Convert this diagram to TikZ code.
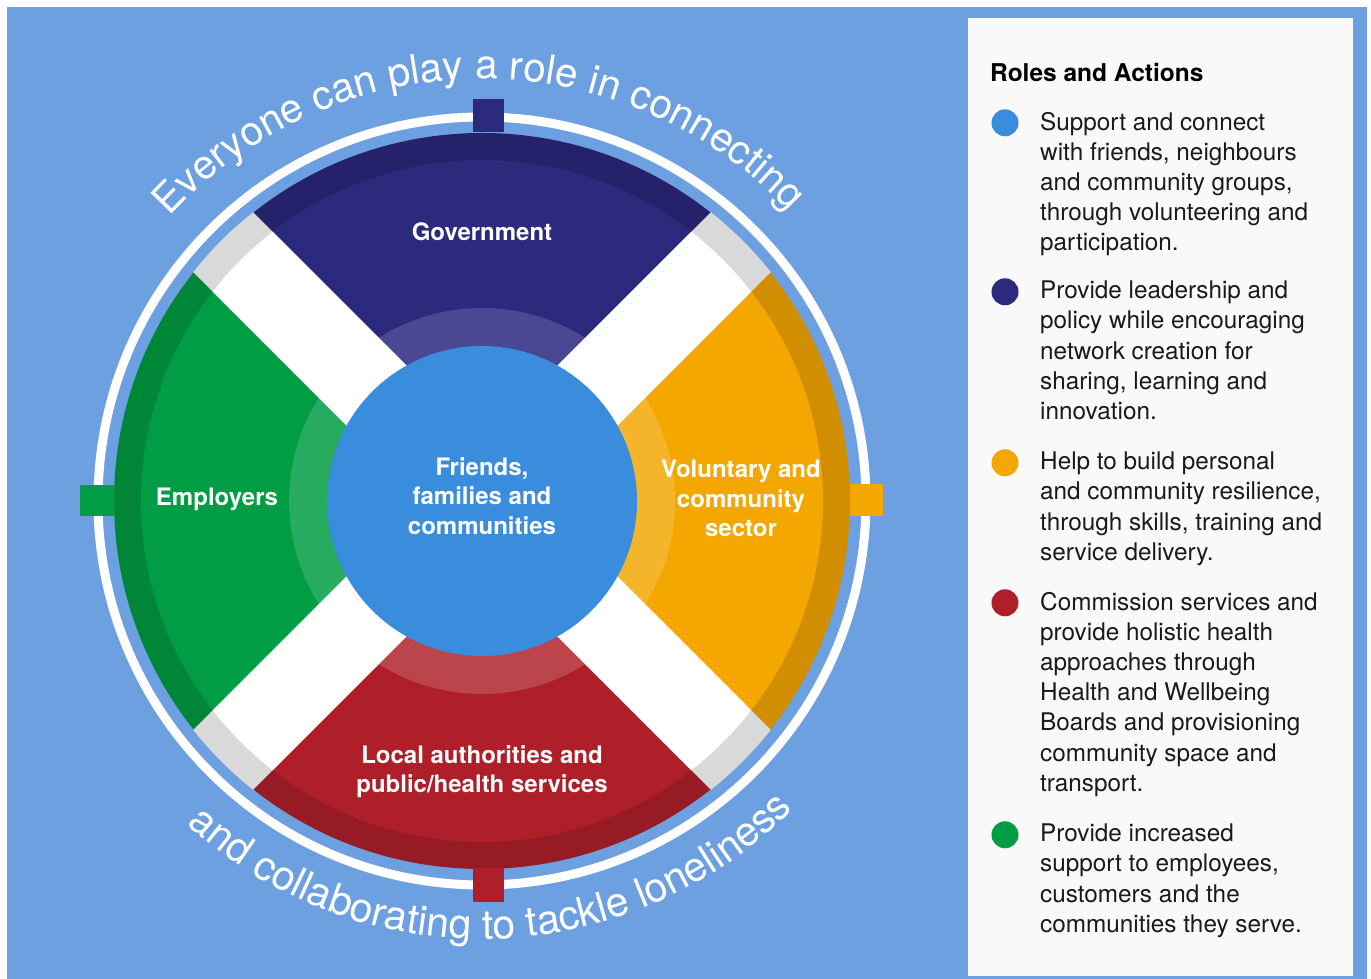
\documentclass[tikz,border=0pt]{standalone}
\usepackage{fontspec}
\setmainfont{TeX Gyre Heros}
\usetikzlibrary{decorations.text}
\definecolor{bgblue}{HTML}{6CA0E0}
\definecolor{panel}{HTML}{F9F9F9}
\definecolor{ink}{HTML}{1A1A1A}
\definecolor{cblue}{HTML}{3A8DDD}
\definecolor{navyD}{HTML}{25226B}
\definecolor{navyM}{HTML}{2C2A7C}
\definecolor{navyL}{HTML}{4A4892}
\definecolor{orngD}{HTML}{D08E00}
\definecolor{orngM}{HTML}{F3A700}
\definecolor{orngL}{HTML}{F4B52A}
\definecolor{redD}{HTML}{961B24}
\definecolor{redM}{HTML}{AE1F2A}
\definecolor{redL}{HTML}{BB454B}
\definecolor{grnD}{HTML}{008637}
\definecolor{grnM}{HTML}{009D45}
\definecolor{grnL}{HTML}{27AB5F}
\definecolor{greyc}{HTML}{D9D9D9}
\tikzset{
  wlabel/.style={font=\bfseries\fontsize{24}{29.3}\selectfont, text=white, align=center, inner sep=0},
  bullet/.style={circle, minimum size=27pt, inner sep=0},
  legtext/.style={font=\fontsize{24.3}{30.2}\selectfont, text=ink, align=left, anchor=north west, inner sep=0}
}
\begin{document}
\begin{tikzpicture}[x=1pt,y=1pt]
\useasboundingbox (0,0) rectangle (1371,979);
\fill[white] (0,0) rectangle (1371,979);
\fill[bgblue] (7,0) rectangle (1367,972);
\fill[panel] (968,3) rectangle (1353,961);

\begin{scope}[shift={(482,478)}]
  % outer white ring
  \draw[white, line width=9pt] (0,0) circle (384);
  % sectors
  \foreach \ang/\col in {90/navy, 0/orng, 270/red, 180/grn} {
    \fill[\col D] (0,0) -- (\ang-45:368) arc[start angle=\ang-45, end angle=\ang+45, radius=368] -- cycle;
    \fill[\col M] (0,0) -- (\ang-45:341) arc[start angle=\ang-45, end angle=\ang+45, radius=341] -- cycle;
    \fill[\col L] (0,0) -- (\ang-45:193) arc[start angle=\ang-45, end angle=\ang+45, radius=193] -- cycle;
  }
  % cross
  \begin{scope}
    \clip (0,0) circle (368.5);
    \fill[greyc, rotate=45] (-400,-42.4) rectangle (400,42.4);
    \fill[greyc, rotate=-45] (-400,-42.4) rectangle (400,42.4);
  \end{scope}
  \begin{scope}
    \clip (0,0) circle (341);
    \fill[white, rotate=45] (-400,-42.4) rectangle (400,42.4);
    \fill[white, rotate=-45] (-400,-42.4) rectangle (400,42.4);
  \end{scope}
  % hub
  \fill[cblue] (0,0) circle (155);
  % tabs
  \fill[navyM] (-9,369) rectangle (22,402);
  \fill[redM] (-9,-367) rectangle (22,-401);
  \fill[grnM] (-402,16) rectangle (-368,-15);
  \fill[orngM] (368,17) rectangle (401,-15);
  % labels
  \node[wlabel] (gov) at (0,269) {Government};
  \node[wlabel] (emp) at (-265,1.6) {Employers};
  \node[wlabel] (hub) at (0,5) {Friends,\\families and\\communities};
  \node[wlabel] (vol) at (259,2.5) {Voluntary and\\community\\sector};
  \node[wlabel] (loc) at (0,-271) {Local authorities and\\public/health services};
  % curved texts
  \path[decorate, decoration={text along path, text color=white, text align=center,
    text={|\fontsize{40.5}{40.5}\selectfont|Everyone can play a role in connecting}}]
    (170.5:422) arc[start angle=170.5, end angle=10.5, radius=422];
  \path[decorate, decoration={text along path, text color=white, text align=center,
    text={|\fontsize{41}{41}\selectfont|and collaborating to tackle loneliness}}]
    (191.5:438) arc[start angle=191.5, end angle=351.5, radius=438];
\end{scope}

% legend
\node[font=\bfseries\fontsize{24.5}{29}\selectfont, text=black, anchor=base west, inner sep=0] (title) at (990,897.3) {Roles and Actions};
\node[bullet, fill=cblue] (b1) at (1005,856.2) {};
\node[bullet, fill=navyM] (b2) at (1005,687.2) {};
\node[bullet, fill=orngM] (b3) at (1005,516.2) {};
\node[bullet, fill=redM] (b4) at (1005,376.2) {};
\node[bullet, fill=grnM] (b5) at (1005,144.2) {};
\node[legtext] (t1) at (1040,867.3) {Support and connect\\with friends, neighbours\\and community groups,\\through volunteering and\\participation.};
\node[legtext] (t2) at (1040,698.3) {Provide leadership and\\policy while encouraging\\network creation for\\sharing, learning and\\innovation.};
\node[legtext] (t3) at (1040,527.3) {Help to build personal\\and community resilience,\\through skills, training and\\service delivery.};
\node[legtext] (t4) at (1040,387.3) {Commission services and\\provide holistic health\\approaches through\\Health and Wellbeing\\Boards and provisioning\\community space and\\transport.};
\node[legtext] (t5) at (1040,155.3) {Provide increased\\support to employees,\\customers and the\\communities they serve.};
\end{tikzpicture}
\end{document}
